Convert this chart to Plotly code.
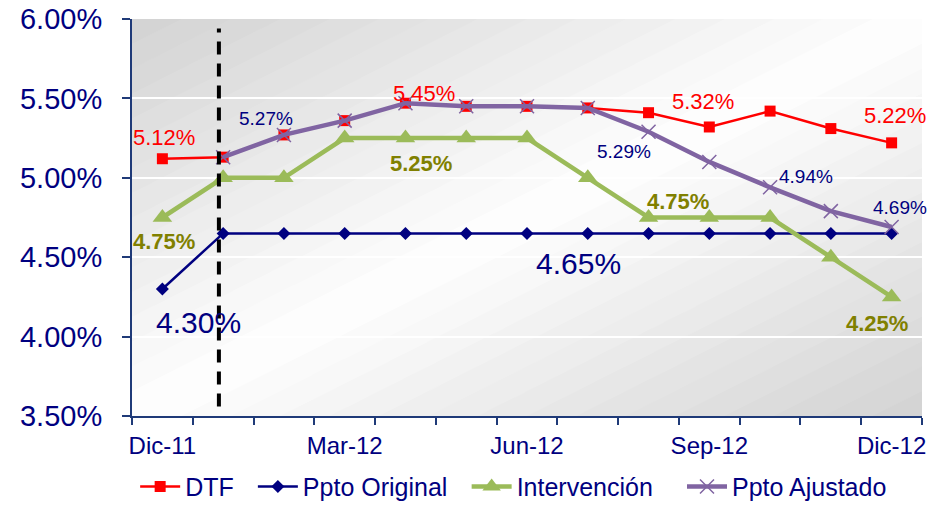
import plotly.graph_objects as go

months = ["Dic-11", "Ene-12", "Feb-12", "Mar-12", "Abr-12", "May-12", "Jun-12",
          "Jul-12", "Ago-12", "Sep-12", "Oct-12", "Nov-12", "Dic-12"]
dtf = [5.12, 5.13, 5.27, 5.36, 5.47, 5.45, 5.45, 5.44, 5.41, 5.32, 5.42, 5.31, 5.22]
ppto_original = [4.30, 4.65, 4.65, 4.65, 4.65, 4.65, 4.65, 4.65, 4.65, 4.65, 4.65, 4.65, 4.65]
intervencion = [4.75, 5.00, 5.00, 5.25, 5.25, 5.25, 5.25, 5.00, 4.75, 4.75, 4.75, 4.50, 4.25]
ppto_ajustado = [None, 5.13, 5.27, 5.36, 5.47, 5.45, 5.45, 5.44, 5.29, 5.10, 4.94, 4.79, 4.69]
y_ticks = [3.5, 4.0, 4.5, 5.0, 5.5, 6.0]
x_label_idx = [0, 3, 6, 9, 12]

NAVY = "#000080"
AXIS = "#1f3a78"
RED = "#ff0000"
GREEN = "#9bbb59"
PURPLE = "#8064a2"
OLIVE = "#808000"
FONT = "Liberation Sans, Arial, sans-serif"

x = list(range(len(months)))

fig = go.Figure()
fig.add_trace(go.Scatter(x=x, y=dtf, name="DTF", mode="lines+markers", legend="legend",
                         line=dict(color=RED, width=2.5),
                         marker=dict(symbol="square", size=11, color=RED)))
fig.add_trace(go.Scatter(x=x, y=ppto_original, name="Ppto Original", mode="lines+markers",
                         legend="legend2",
                         line=dict(color=NAVY, width=2.5),
                         marker=dict(symbol="diamond", size=10, color=NAVY)))
fig.add_trace(go.Scatter(x=x, y=intervencion, name="Intervención", mode="lines+markers",
                         legend="legend3",
                         line=dict(color=GREEN, width=4.5),
                         marker=dict(symbol="triangle-up", size=17, color=GREEN)))
fig.add_trace(go.Scatter(x=x, y=ppto_ajustado, name="Ppto Ajustado", mode="lines+markers",
                         legend="legend4",
                         line=dict(color=PURPLE, width=4.5),
                         marker=dict(symbol="x-thin", size=14, color=PURPLE,
                                     line=dict(color=PURPLE, width=1.5))))

# gradient background (diagonal, light along bottom-left -> top-right)
N = 16
dark = 212
light = 253
for k in range(N):
    d = 1 - k / N
    c = int(round(dark + (light - dark) * (k / (N - 1))))
    col = f"rgb({c},{c},{c})"
    path = (f"M 0 0 L {d} 0 L 1 {1-d} L 1 1 L {1-d} 1 L 0 {d} Z")
    fig.add_shape(type="path", path=path, xref="paper", yref="paper",
                  fillcolor=col, line=dict(width=0), layer="below")

# dashed divider near Ene-12
fig.add_shape(type="line", xref="x", yref="y", x0=0.93, x1=0.93, y0=3.56, y1=5.94,
              line=dict(color="black", width=4, dash="13px,9px"))

def label(series, i, text_color, size, dx, dy, bold=False):
    v = series[i]
    txt = f"{v:.2f}%"
    if bold:
        txt = f"<b>{txt}</b>"
    fig.add_annotation(x=i, y=v, xref="x", yref="y", text=txt, showarrow=False,
                       xshift=dx, yshift=dy,
                       font=dict(family=FONT, size=size, color=text_color))

label(dtf, 0, RED, 22, 2, 21)
label(dtf, 5, RED, 22, -42, 13)
label(dtf, 9, RED, 22, -6, 25)
label(dtf, 12, RED, 22, 3, 27)
label(ppto_ajustado, 2, NAVY, 19, -18, 16)
label(ppto_ajustado, 8, NAVY, 19, -25, -20)
label(ppto_ajustado, 10, NAVY, 19, 36, 11)
label(ppto_ajustado, 12, NAVY, 19, 8, 20)
label(intervencion, 0, OLIVE, 22, 2, -24, bold=True)
label(intervencion, 4, OLIVE, 22, 16, -25, bold=True)
label(intervencion, 8, OLIVE, 22, 29, 16, bold=True)
label(intervencion, 12, OLIVE, 22, -15, -27, bold=True)
label(ppto_original, 0, NAVY, 30, 36, -34)
label(ppto_original, 7, NAVY, 30, -9, -30)

def leg(xpos):
    return dict(orientation="h", x=xpos, xanchor="left", y=-0.178, yanchor="middle",
                font=dict(family=FONT, size=25, color=NAVY), bgcolor="rgba(0,0,0,0)",
                itemwidth=40)

fig.update_layout(
    width=935, height=506,
    margin=dict(l=132, r=13, t=19, b=90, autoexpand=False),
    paper_bgcolor="white",
    plot_bgcolor="rgb(212,212,212)",
    font=dict(family=FONT, color=NAVY),
    showlegend=True,
    legend=leg(0.004), legend2=leg(0.153), legend3=leg(0.4236), legend4=leg(0.6962),
)
fig.update_xaxes(
    range=[-0.5, 12.5], tickmode="array", automargin=False,
    tickvals=[x[i] for i in x_label_idx], ticktext=[months[i] for i in x_label_idx],
    ticks="", showgrid=False, zeroline=False,
    showline=True, linecolor=AXIS, linewidth=2,
    tickfont=dict(family=FONT, size=24, color=NAVY),
    ticklabelstandoff=7,
    minor=dict(tickmode="array", tickvals=[i - 0.5 for i in range(len(months) + 1)],
               ticks="outside", ticklen=7, tickcolor=AXIS, tickwidth=2, showgrid=False),
)
fig.update_yaxes(
    range=[3.5, 6.0], tickmode="array", tickvals=y_ticks, automargin=False,
    ticktext=[f"{v:.2f}%" for v in y_ticks],
    ticks="outside", ticklen=8, tickcolor=AXIS, tickwidth=2,
    showline=True, linecolor=AXIS, linewidth=2,
    showgrid=True, gridcolor="white", gridwidth=1.5, zeroline=False,
    tickfont=dict(family=FONT, size=29, color=NAVY),
    ticklabelstandoff=14,
)

fig.write_html("out.html", config={"displayModeBar": False},
               post_script="document.body.style.margin='0px';")
